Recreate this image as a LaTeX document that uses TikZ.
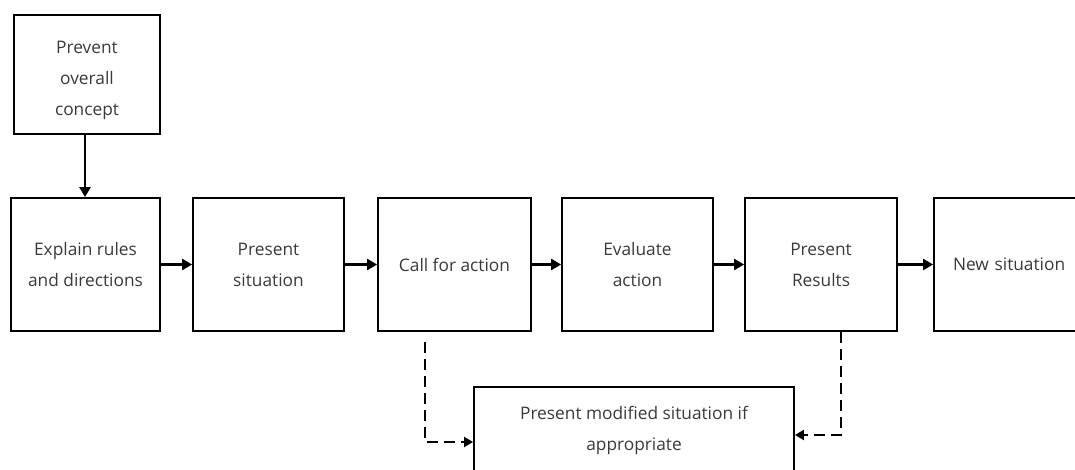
\documentclass[tikz,border=0pt]{standalone}
\usepackage{fontspec}
\setmainfont{Open Sans}
\usetikzlibrary{arrows.meta}
\definecolor{txt}{HTML}{3A3A3A}
\begin{document}
\begin{tikzpicture}[x=1pt,y=-1pt,
  box/.style={draw=black,line width=1.8pt,inner sep=0pt,align=center,text=txt,font=\fontsize{17.3}{31}\selectfont},
  lbl/.style={text=txt,font=\fontsize{17.3}{31}\selectfont,align=center},
  flow/.style={line width=2.4pt,-{Triangle[length=10pt,width=11pt]}},
  dflow/.style={line width=1.8pt,dash pattern=on 11pt off 6pt,-{Triangle[length=9pt,width=10pt]}}]
\useasboundingbox (0,0) rectangle (1075,470);
\node[box,minimum width=146pt,minimum height=119pt] (top) at (87,74.5) {};
\node[lbl] (ttop) at (87,80) {Prevent\\overall\\concept};
\node[box,minimum width=149pt,minimum height=133pt] (b1) at (85.5,264.5) {Explain rules\\and directions};
\node[box,minimum width=151pt,minimum height=133pt] (b2) at (268.5,264.5) {Present\\situation};
\node[box,minimum width=153pt,minimum height=133pt] (b3) at (454.5,264.5) {Call for action};
\node[box,minimum width=151pt,minimum height=133pt] (b4) at (637.5,264.5) {Evaluate\\action};
\node[box,minimum width=152pt,minimum height=133pt] (b5) at (821,264.5) {Present\\Results};
\node[box,minimum width=160pt,minimum height=133pt,text width=122pt,align=left] (b6) at (1014,264.5) {New situation};
\node[box,minimum width=320pt,minimum height=110pt] (b7) at (634,442) {};
\node[lbl,anchor=north] (t7) at (634,403) {Present modified situation if\\appropriate};
\draw[flow] (top.south -| 85,0) -- (b1.north -| 85,0);
\draw[flow] (b1) -- (b2);
\draw[flow] (b2) -- (b3);
\draw[flow] (b3) -- (b4);
\draw[flow] (b4) -- (b5);
\draw[flow] (b5) -- (b6);
\coordinate (l1) at (425,442);
\coordinate (r1) at (841,435);
\draw[dflow] ([yshift=-10pt]b3.south -| l1) -- (l1) -- (b7.west |- l1);
\draw[dflow] (b5.south -| r1) -- (r1) -- (b7.east |- r1);
\end{tikzpicture}
\end{document}
